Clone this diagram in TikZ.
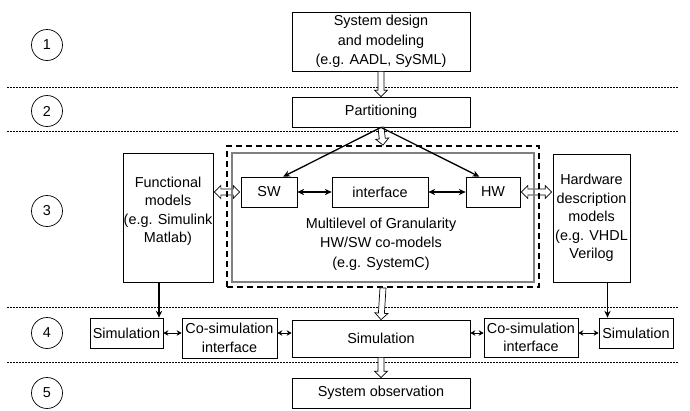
\documentclass[tikz,border=0pt]{standalone}
\usepackage{fontspec}
\setmainfont{Liberation Sans}
\usetikzlibrary{calc,positioning}
\usetikzlibrary{arrows.meta}
\tikzset{>={Stealth[length=2.4mm,width=2.2mm]}}
\tikzset{box/.style = {draw, fill=white, rectangle, line width=0.7pt,
                  align=center, inner sep=1pt},
        stage/.style = {draw, circle, minimum size=31pt, inner sep=0pt, line width=0.7pt},
        sepline/.style = {dash pattern=on 2pt off 1pt, line width=0.8pt},
        hollow/.style = {draw, fill=white, line width=0.7pt,
          to path={let \p1=(\tikztostart), \p2=(\tikztotarget),
            \n1={atan2(\y2-\y1,\x2-\x1)}, \n2={veclen(\x2-\x1,\y2-\y1)} in
            [shift={(\p1)}, rotate=\n1]
            (0pt,3pt) -- (\n2*1pt-6.5pt,3pt) -- (\n2*1pt-6.5pt,6.5pt) -- (\n2*1pt,0pt)
            -- (\n2*1pt-6.5pt,-6.5pt) -- (\n2*1pt-6.5pt,-3pt) -- (0pt,-3pt) -- cycle}},
        hollowboth/.style = {draw, fill=white, line width=0.7pt,
          to path={let \p1=(\tikztostart), \p2=(\tikztotarget),
            \n1={atan2(\y2-\y1,\x2-\x1)}, \n2={veclen(\x2-\x1,\y2-\y1)} in
            [shift={(\p1)}, rotate=\n1]
            (1pt,0pt) -- (7.5pt,6.5pt) -- (7.5pt,3pt) -- (\n2*1pt-7.5pt,3pt)
            -- (\n2*1pt-7.5pt,6.5pt) -- (\n2*1pt-1pt,0pt) -- (\n2*1pt-7.5pt,-6.5pt)
            -- (\n2*1pt-7.5pt,-3pt) -- (7.5pt,-3pt) -- (7.5pt,-6.5pt) -- cycle}},
        small/.style = {<->, line width=1pt, >={Stealth[length=5pt,width=5.5pt]}}
    }

\begin{document}
\begin{tikzpicture}[x=1pt, y=-1pt, font=\fontsize{14.4pt}{18.5pt}\selectfont]
    \tikzstyle{bigline} = [line width=1.3pt]
    \useasboundingbox (0,0) rectangle (690,410);

    % stage separators and numbers
    \foreach \yy in {87,131,307,362}
      \draw[sepline] (7,\yy) -- (678,\yy);
    \foreach \i/\yy in {1/45,2/111,3/211,4/333,5/393}
      \node[stage] (s\i) at (47,\yy) {\i};

    \node[box, minimum width=178pt, minimum height=59pt,
          font=\fontsize{14.4pt}{19.5pt}\selectfont] (sys) at (381,41.5)
          {System design\\and modeling\\(e.g. AADL, SySML)};
    \node[box, minimum width=178pt, minimum height=30pt] (part) at (381,112) {Partitioning};

    % co-model group
    \node[box, minimum width=56pt, minimum height=30pt] (sw) at (269,192) {SW};
    \node[box, minimum width=96pt, minimum height=30pt] (iface) at (380,192) {interface};
    \node[box, minimum width=54pt, minimum height=30pt] (hw) at (493,192) {HW};

    \node[box, minimum width=90pt, minimum height=129pt] (func) at (168,217.5) {};
    \node[align=center, inner sep=0pt, below=24pt of func.north] (functxt)
          {Functional\\models\\(e.g. Simulink\\Matlab)};
    \node[box, minimum width=77pt, minimum height=128pt] (hwm) at (591.5,218)
          {Hardware\\description\\models\\(e.g. VHDL\\Verilog};

    \draw[hollowboth] (func.east |- sw.west) to (sw.west);
    \draw[hollowboth] (hw.east) to (hwm.west |- hw.east);

    \node[draw=gray, line width=1.2pt, minimum width=302pt, minimum height=129pt] (inner) at (383,217.5) {};
    \node[draw, line width=1.8pt, dash pattern=on 6pt off 4pt,
          minimum width=312pt, minimum height=141pt] (grp) at (383,216.5) {};
    \node[align=center, font=\fontsize{14.4pt}{19.5pt}\selectfont] (mlabel) at (381,244)
          {Multilevel of Granularity\\HW/SW co-models\\(e.g. SystemC)};

    % simulation row
    \node[box, minimum width=73pt, minimum height=30pt] (simsw) at (126.5,333) {Simulation};
    \node[box, minimum width=95pt, minimum height=40pt] (cosw) at (229.5,338) {Co-simulation\\interface};
    \node[box, minimum width=178pt, minimum height=37pt] (sim) at (381,338.5) {Simulation};
    \node[box, minimum width=94pt, minimum height=39pt] (cohw) at (531,337.5) {Co-simulation\\interface};
    \node[box, minimum width=74pt, minimum height=30pt] (simhw) at (636,333) {Simulation};
    \node[box, minimum width=178pt, minimum height=30pt] (obs) at (381,393) {System observation};

    \draw[hollow] (sys.south) to (part.north);
    \draw[hollow] (part.south) to (grp.north);
    \draw[hollow] (grp.south) to (sim.north);
    \draw[hollow] (sim.south) to (obs.north);

    \draw[->, bigline] (part.south) -- ($(sw.north)!0.5!(sw.north east)$);
    \draw[->, bigline] (part.south) -- ($(hw.north west)!0.5!(hw.north)$);
    \draw[<->, bigline] (sw) -- (iface);
    \draw[<->, bigline] (iface) -- (hw);

    \coordinate (fa) at ($(func.south)+(-9,0)$);
    \coordinate (ha) at ($(hwm.south)+(16,0)$);
    \draw[->, line width=1.2pt] (fa) -- (fa |- simsw.north);
    \draw[->, line width=1.2pt] (ha) -- (ha |- simhw.north);

    \draw[small] (simsw.east) -- (cosw.west |- simsw.east);
    \draw[small] (cosw.east |- simsw.east) -- (sim.west |- simsw.east);
    \draw[small] (sim.east |- simsw.east) -- (cohw.west |- simsw.east);
    \draw[small] (cohw.east |- simsw.east) -- (simhw.west);
\end{tikzpicture}
\end{document}
